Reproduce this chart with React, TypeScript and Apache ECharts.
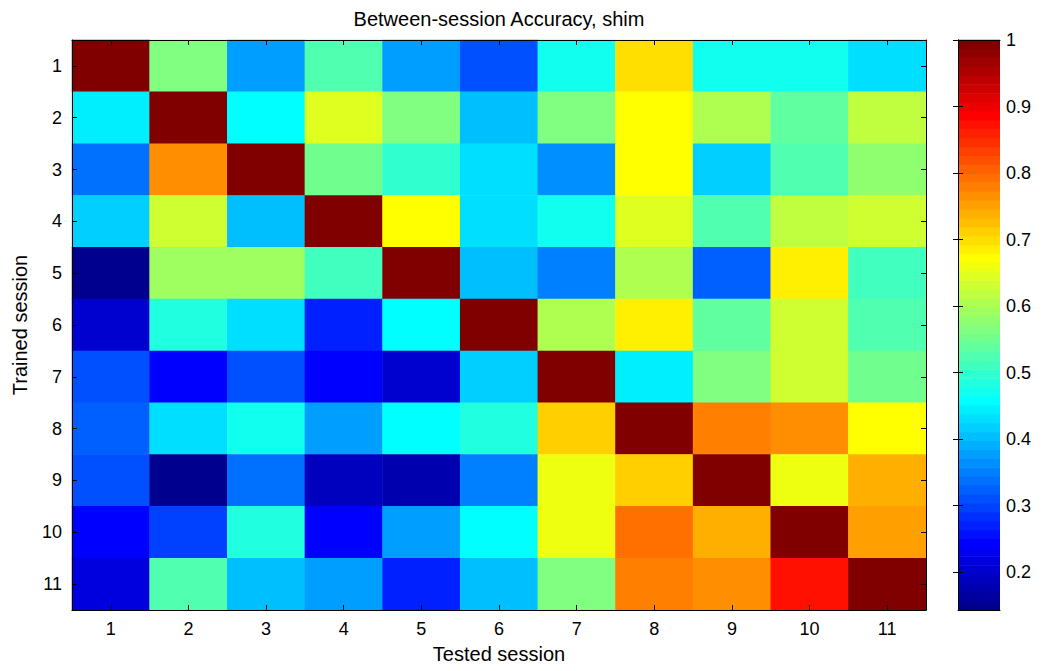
import React, { useEffect, useRef } from 'react';
import * as echarts from 'echarts';

const testedSessions = ['1', '2', '3', '4', '5', '6', '7', '8', '9', '10', '11'];
const trainedSessions = ['1', '2', '3', '4', '5', '6', '7', '8', '9', '10', '11'];

// rows = trained session 1..11, columns = tested session 1..11
const row1 = [1.0, 0.565, 0.377, 0.525, 0.377, 0.31, 0.471, 0.699, 0.471, 0.471, 0.431];
const row2 = [0.444, 1.0, 0.458, 0.645, 0.565, 0.404, 0.565, 0.672, 0.605, 0.538, 0.618];
const row3 = [0.337, 0.766, 1.0, 0.551, 0.498, 0.431, 0.364, 0.672, 0.417, 0.525, 0.578];
const row4 = [0.417, 0.632, 0.404, 1.0, 0.672, 0.431, 0.471, 0.645, 0.525, 0.618, 0.632];
const row5 = [0.15, 0.591, 0.591, 0.511, 1.0, 0.404, 0.35, 0.605, 0.324, 0.685, 0.511];
const row6 = [0.203, 0.484, 0.431, 0.27, 0.458, 1.0, 0.605, 0.685, 0.538, 0.632, 0.525];
const row7 = [0.31, 0.243, 0.31, 0.243, 0.203, 0.417, 1.0, 0.444, 0.565, 0.632, 0.551];
const row8 = [0.324, 0.431, 0.471, 0.377, 0.458, 0.484, 0.712, 1.0, 0.779, 0.766, 0.672];
const row9 = [0.31, 0.15, 0.337, 0.19, 0.176, 0.344, 0.659, 0.712, 1.0, 0.659, 0.739];
const row10 = [0.243, 0.297, 0.484, 0.243, 0.377, 0.458, 0.659, 0.792, 0.739, 1.0, 0.752];
const row11 = [0.217, 0.525, 0.404, 0.377, 0.27, 0.404, 0.565, 0.779, 0.766, 0.873, 1.0];
const accuracy = [row1, row2, row3, row4, row5, row6, row7, row8, row9, row10, row11];

const colorbarTicks = [0.2, 0.3, 0.4, 0.5, 0.6, 0.7, 0.8, 0.9, 1];
const cMin = 0.143;
const cMax = 1.0;
const nColors = 64;

const FONT = '"Liberation Sans", Arial, Helvetica, sans-serif';

// MATLAB jet(64) colormap
function jetColor(i: number): string {
  const k = i + 1;
  const r = k <= 24 ? 0 : k <= 40 ? (k - 24) / 16 : k <= 56 ? 1 : (72 - k) / 16;
  const g = k <= 8 ? 0 : k <= 24 ? (k - 8) / 16 : k <= 40 ? 1 : k <= 56 ? (56 - k) / 16 : 0;
  const b = k <= 8 ? (k + 8) / 16 : k <= 24 ? 1 : k <= 40 ? (40 - k) / 16 : 0;
  const c = (x: number) => Math.round(Math.max(0, Math.min(1, x)) * 255);
  return `rgb(${c(r)},${c(g)},${c(b)})`;
}

export default function App() {
  const ref = useRef<HTMLDivElement>(null);

  useEffect(() => {
    if (!ref.current) return;
    const chart = echarts.init(ref.current, undefined, { renderer: 'svg' });

    const step = (cMax - cMin) / nColors;
    const pieces: any[] = [];
    const bands: number[][] = [];
    for (let i = 0; i < nColors; i++) {
      const lo = cMin + i * step;
      const hi = cMin + (i + 1) * step;
      if (i < nColors - 1) pieces.push({ gte: lo, lt: hi, color: jetColor(i) });
      else pieces.push({ gte: lo, lte: hi + 1e-6, color: jetColor(i) });
      bands.push([lo, hi, i]);
    }

    const heatData: number[][] = [];
    accuracy.forEach((row, y) => row.forEach((v, x) => heatData.push([x, y, v])));

    const blackLine = { show: true, lineStyle: { color: '#000', width: 1 } };
    const tickCat = { show: true, inside: true, alignWithLabel: true, length: 5, lineStyle: { color: '#000', width: 1 } };

    chart.setOption({
      animation: false,
      textStyle: { fontFamily: FONT },
      grid: [
        { left: 72, top: 40, width: 854, height: 570 },
        { left: 958, top: 40, width: 42, height: 570 },
      ],
      xAxis: [
        {
          type: 'category', gridIndex: 0, position: 'bottom', data: testedSessions,
          axisLine: blackLine, axisTick: tickCat,
          axisLabel: { color: '#000', fontSize: 18, margin: 10, fontFamily: FONT },
          splitLine: { show: false },
          name: 'Tested session', nameLocation: 'middle', nameGap: 34,
          nameTextStyle: { color: '#000', fontSize: 20, fontFamily: FONT },
          z: 5,
        },
        {
          type: 'category', gridIndex: 0, position: 'top', data: testedSessions,
          axisLine: blackLine, axisTick: tickCat, axisLabel: { show: false },
          splitLine: { show: false }, z: 5,
        },
        {
          type: 'value', gridIndex: 1, position: 'bottom', min: 0, max: 1,
          axisLine: blackLine, axisTick: { show: false }, axisLabel: { show: false },
          splitLine: { show: false }, z: 5,
        },
        {
          type: 'value', gridIndex: 1, position: 'top', min: 0, max: 1,
          axisLine: blackLine, axisTick: { show: false }, axisLabel: { show: false },
          splitLine: { show: false }, z: 5,
        },
      ],
      yAxis: [
        {
          type: 'category', gridIndex: 0, position: 'left', inverse: true, data: trainedSessions,
          axisLine: blackLine, axisTick: tickCat,
          axisLabel: { color: '#000', fontSize: 18, margin: 10, fontFamily: FONT },
          splitLine: { show: false },
          name: 'Trained session', nameLocation: 'middle', nameGap: 42,
          nameTextStyle: { color: '#000', fontSize: 20, fontFamily: FONT },
          z: 5,
        },
        {
          type: 'category', gridIndex: 0, position: 'right', inverse: true, data: trainedSessions,
          axisLine: blackLine, axisTick: tickCat, axisLabel: { show: false },
          splitLine: { show: false }, z: 5,
        },
        {
          type: 'value', gridIndex: 1, position: 'left', min: cMin, max: cMax,
          axisLine: blackLine,
          axisTick: { show: true, inside: true, length: 5, customValues: colorbarTicks, lineStyle: { color: '#000' } },
          axisLabel: { show: false }, splitLine: { show: false }, z: 5,
        },
        {
          type: 'value', gridIndex: 1, position: 'right', min: cMin, max: cMax,
          axisLine: blackLine,
          axisTick: { show: true, inside: true, length: 5, customValues: colorbarTicks, lineStyle: { color: '#000' } },
          axisLabel: {
            show: true, customValues: colorbarTicks, color: '#000', fontSize: 18, margin: 6, fontFamily: FONT,
            formatter: (v: number) => String(Math.round(v * 10) / 10),
          },
          splitLine: { show: false }, z: 5,
        },
      ],
      visualMap: {
        type: 'piecewise', show: false, seriesIndex: 0, dimension: 2, pieces,
      },
      series: [
        {
          type: 'heatmap', xAxisIndex: 0, yAxisIndex: 0, data: heatData,
          itemStyle: { borderWidth: 0 }, emphasis: { disabled: true }, silent: true,
        },
        {
          type: 'custom', xAxisIndex: 2, yAxisIndex: 2, data: bands, silent: true,
          renderItem: (params: any, api: any) => {
            const lo = api.value(0);
            const hi = api.value(1);
            const idx = api.value(2);
            const p1 = api.coord([0, hi]);
            const p2 = api.coord([1, lo]);
            return {
              type: 'rect',
              shape: { x: p1[0], y: p1[1] - 0.3, width: p2[0] - p1[0], height: p2[1] - p1[1] + 0.6 },
              style: { fill: jetColor(idx) },
            };
          },
        },
      ],
      graphic: [
        {
          type: 'text', x: 499, y: 19,
          style: {
            text: 'Between-session Accuracy, shim', fill: '#000',
            font: `20px ${FONT}`, align: 'center', verticalAlign: 'middle',
          },
        },
      ],
    });

    return () => chart.dispose();
  }, []);

  return (
    <div
      ref={ref}
      style={{ position: 'absolute', left: 0, top: 0, width: 1045, height: 671, background: '#fff' }}
    />
  );
}
